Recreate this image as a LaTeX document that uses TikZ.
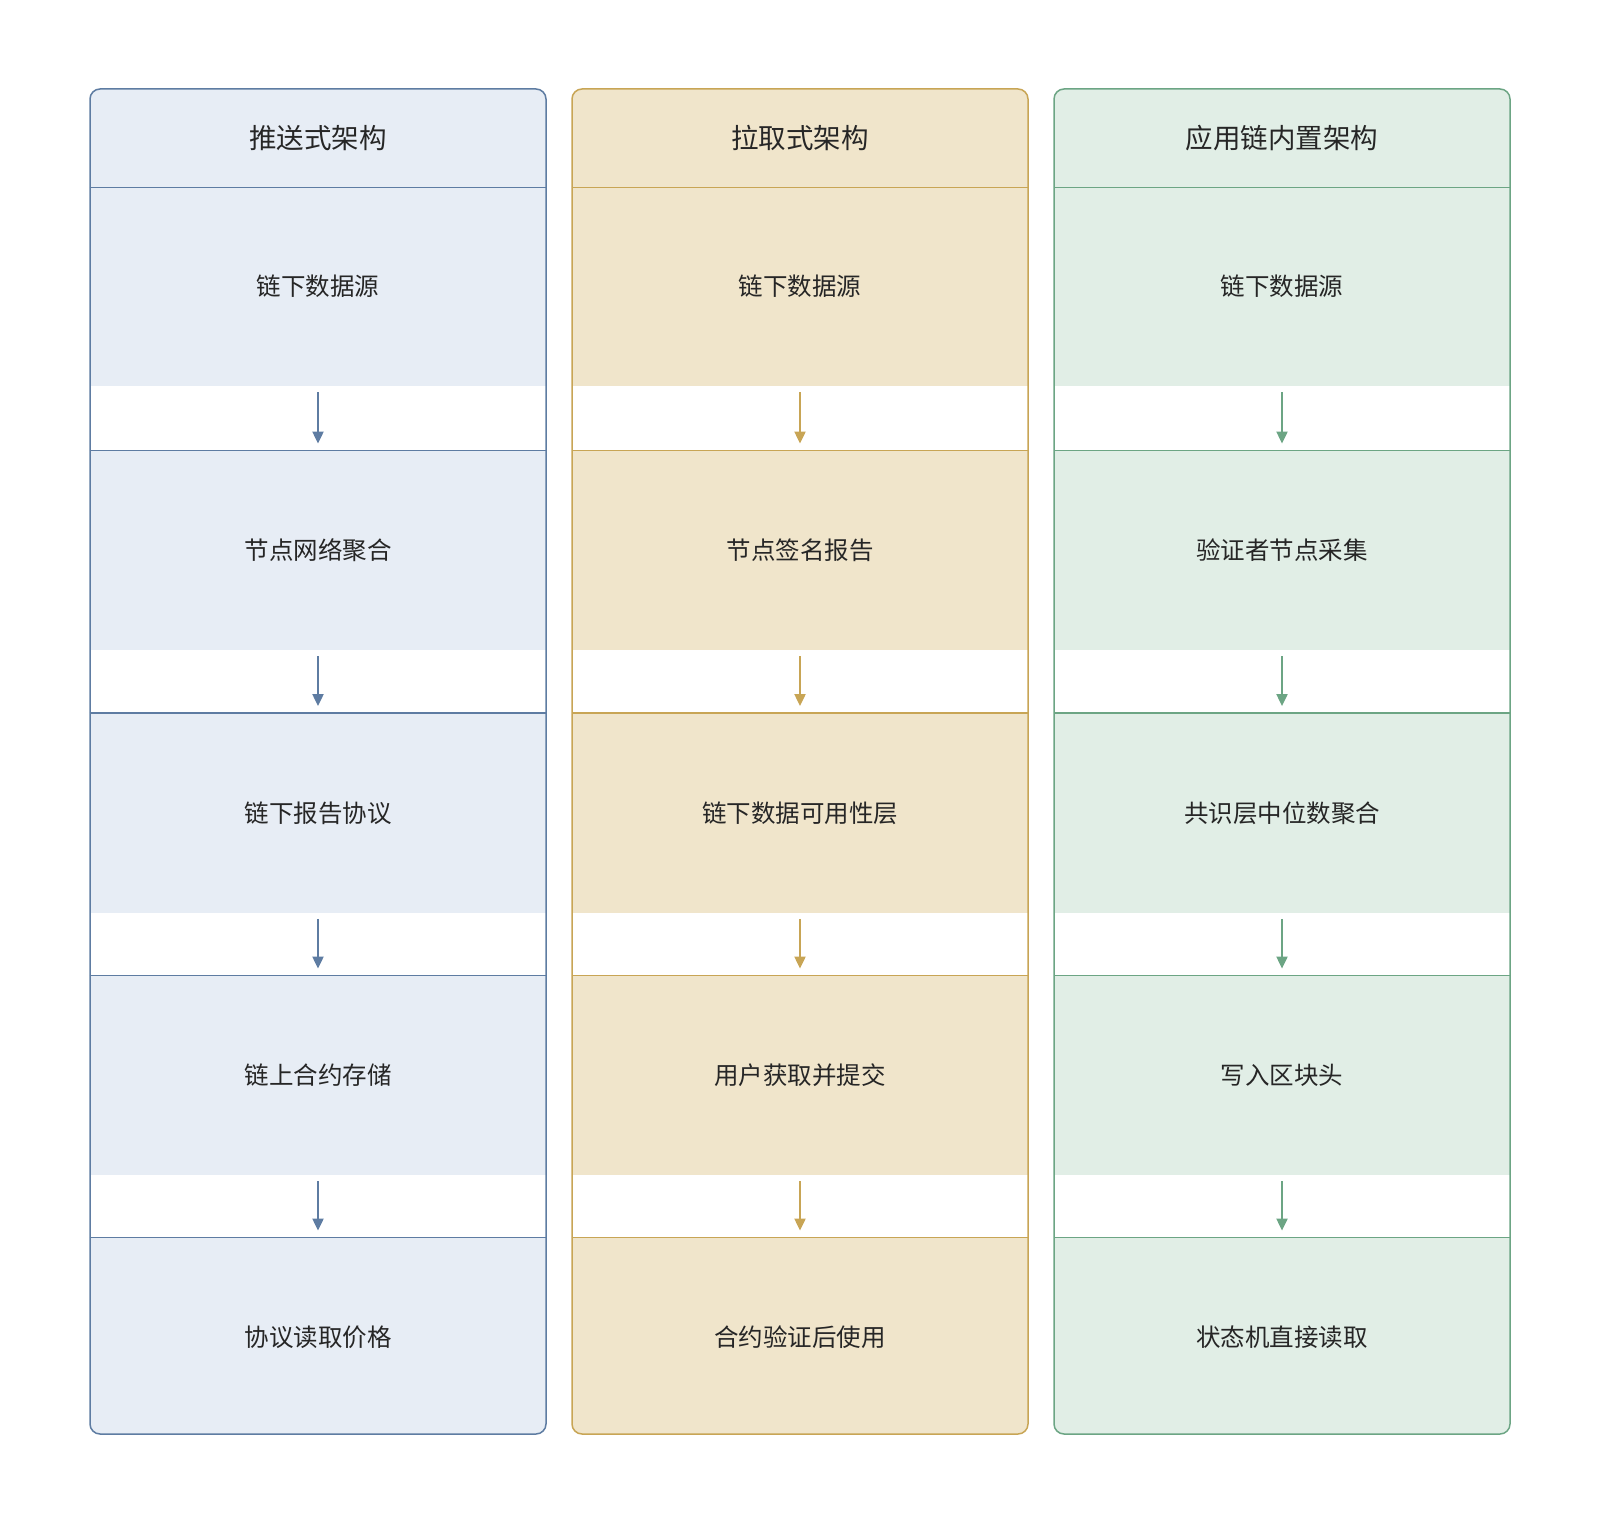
\documentclass[tikz,border=0pt]{standalone}
\usepackage{fontspec}
\setmainfont{Noto Sans CJK SC}
\usetikzlibrary{arrows.meta}

\definecolor{pushline}{HTML}{5E7CA2}
\definecolor{pushfill}{HTML}{E7EDF5}
\definecolor{pullline}{HTML}{C8A555}
\definecolor{pullfill}{HTML}{F0E5CB}
\definecolor{chainline}{HTML}{6CA584}
\definecolor{chainfill}{HTML}{E1EEE6}
\definecolor{textgray}{HTML}{262626}

\tikzset{
  lane/.style = {draw=#1line, line width=0.75pt, rounded corners=5pt},
  head/.style = {fill=#1fill, minimum width=228pt, minimum height=49pt, inner sep=0, text=textgray, font=\fontsize{13.75}{16}\selectfont},
  stepbox/.style = {fill=#1fill, minimum width=228pt, minimum height=99.5pt, inner sep=0, text=textgray, font=\fontsize{12.25}{14}\selectfont},
  sep/.style = {draw=#1line, line width=0.75pt},
  flow/.style = {draw=#1line, line width=1pt, -{Triangle[length=6pt, width=5.5pt]}, shorten <=3pt, shorten >=3.5pt}
}

\begin{document}
\begin{tikzpicture}[x=0.5pt, y=-0.5pt]
\useasboundingbox (0,0) rectangle (1600,1524);
\foreach \n/\L/\col/\ti/\sa/\sb/\sc/\sd/\se in {
  a/90/push/推送式架构/链下数据源/节点网络聚合/链下报告协议/链上合约存储/协议读取价格,
  b/572/pull/拉取式架构/链下数据源/节点签名报告/链下数据可用性层/用户获取并提交/合约验证后使用,
  c/1054/chain/应用链内置架构/链下数据源/验证者节点采集/共识层中位数聚合/写入区块头/状态机直接读取}{
  \begin{scope}
    \clip[rounded corners=5pt] (\L,89) rectangle (\L+456,1434);
    \node[head=\col] (\n h) at (\L+228,138) {\ti};
    \node[stepbox=\col] (\n1) at (\L+228,286.5) {\sa};
    \node[stepbox=\col] (\n2) at (\L+228,550.5) {\sb};
    \node[stepbox=\col] (\n3) at (\L+228,813) {\sc};
    \node[stepbox=\col] (\n4) at (\L+228,1075.5) {\sd};
    \node[stepbox=\col] (\n5) at (\L+228,1337.5) {\se};
  \end{scope}
  \draw[sep=\col] (\n h.south west) -- (\n h.south east);
  \foreach \i/\j in {1/2, 2/3, 3/4, 4/5}{
    \draw[sep=\col] (\n\j.north west) -- (\n\j.north east);
    \draw[flow=\col] (\n\i) -- (\n\j);
  }
  \draw[lane=\col] (\L,89) rectangle (\L+456,1434);
}
\end{tikzpicture}
\end{document}
